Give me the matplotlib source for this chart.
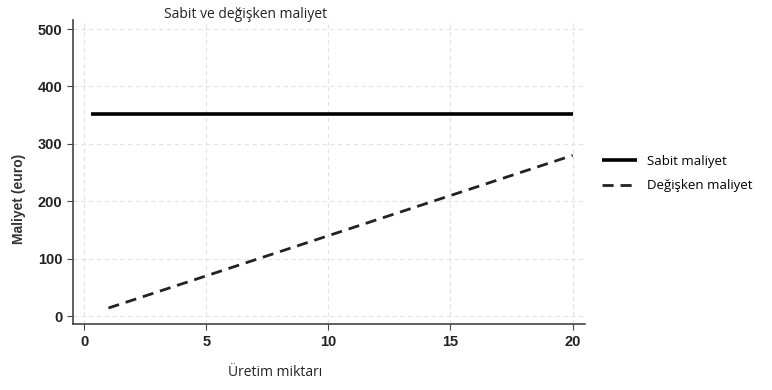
import numpy as np
from matplotlib import pyplot as plt

# veriler
miktar = [1, 5, 10, 15, 20]
sabit_x = [0.3, 20]
sabit = [352, 352]
degisken = [14, 70, 140, 210, 280]
xticks = [0, 5, 10, 15, 20]
yticks = [0, 100, 200, 300, 400, 500]

fig = plt.figure(figsize=(7.72, 3.90), dpi=100)
ax = fig.add_axes([0.0946, 0.169, 0.663, 0.78])

ax.plot(sabit_x, sabit, color='black', lw=2.6, solid_capstyle='butt', label='Sabit maliyet')
ax.plot(miktar, degisken, color='#222222', lw=2.0, ls=(0, (4, 2.5)), label='Değişken maliyet')

ax.set_xlim(-0.45, 20.5)
ax.set_ylim(-14, 516)
ax.set_xticks(xticks)
ax.set_yticks(yticks)
ax.grid(True, color='#e2e2e2', ls=(0, (4, 3)), lw=0.8)
for s in ['top', 'right']:
    ax.spines[s].set_visible(False)
for s in ['left', 'bottom']:
    ax.spines[s].set_color('#444444')
    ax.spines[s].set_linewidth(1.2)
ax.tick_params(direction='out', length=4, color='#444444', labelsize=10.5)
for lab in ax.get_xticklabels() + ax.get_yticklabels():
    lab.set_fontweight('bold')
    lab.set_family('Liberation Sans')
    lab.set_color('#222222')

fig.text(0.318, 0.963, 'Sabit ve değişken maliyet', ha='center', va='center',
         family='Open Sans', fontsize=10, color='#222222')
fig.text(0.356, 0.045, 'Üretim miktarı', ha='center', va='center',
         family='Open Sans', fontsize=10, color='#222222')
fig.text(0.024, 0.49, 'Maliyet (euro)', ha='center', va='center', rotation=90,
         family='Liberation Sans', fontsize=10, fontweight='bold', color='#333333')

leg = fig.legend(loc='center left', bbox_to_anchor=(0.765, 0.555), frameon=False,
                 prop={'family': 'Open Sans', 'size': 9.5}, handlelength=2.6,
                 labelspacing=0.9, handletextpad=0.8)

fig.savefig('out.png', dpi=100)
